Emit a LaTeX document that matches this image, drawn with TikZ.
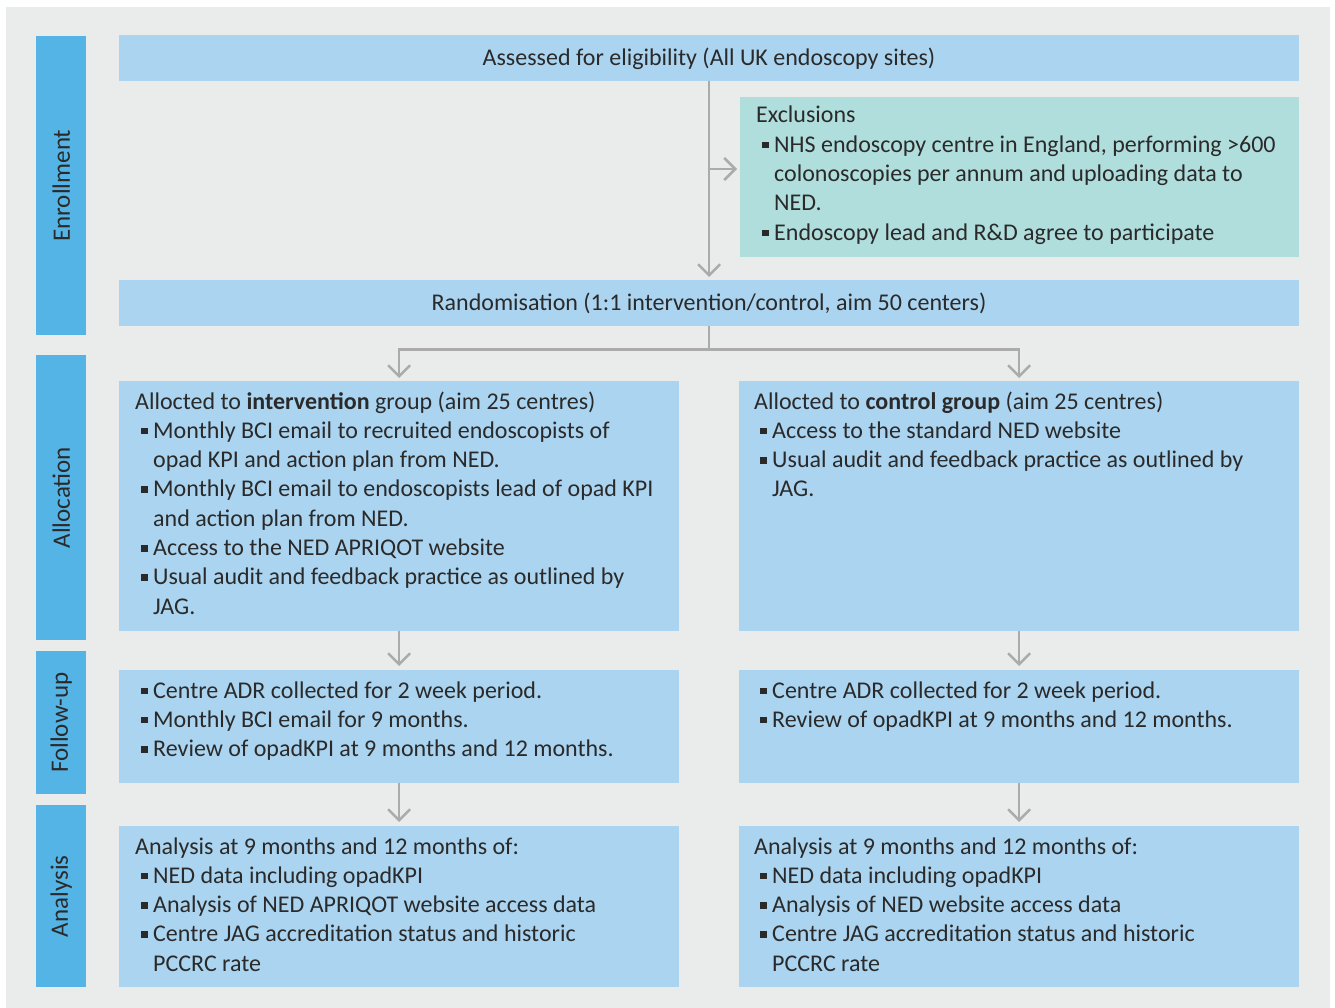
\documentclass[tikz,border=0pt]{standalone}
\usepackage{fontspec}
\setmainfont{Carlito}
\usetikzlibrary{arrows.meta}
\definecolor{bgc}{HTML}{EAECEC}
\definecolor{barc}{HTML}{55B4E6}
\definecolor{lboxc}{HTML}{ABD4F0}
\definecolor{tboxc}{HTML}{B0DEDD}
\definecolor{arrc}{HTML}{ABABAB}
\definecolor{inkc}{HTML}{2A2A2A}
\newcommand\bul{\makebox[18pt][l]{\hspace*{6pt}\rule[4pt]{6.5pt}{6.5pt}}}
\newcommand\ind{\hspace*{18pt}}
\newcommand\tblock[1]{\parbox[t]{620pt}{\raggedright #1}}
\tikzset{
  boxc/.style={rectangle, fill=lboxc, inner sep=0pt, anchor=north west},
  exclbox/.style={rectangle, fill=tboxc, inner sep=0pt, anchor=north west},
  phasebar/.style={rectangle, fill=barc, inner sep=0pt, anchor=north west, minimum width=50pt},
  phaselbl/.style={rotate=90, text=inkc, font=\fontsize{25}{28}\selectfont, inner sep=0pt},
  txt/.style={text=inkc, font=\fontsize{24}{29.3}\selectfont, inner sep=0pt, anchor=base west},
  ctxt/.style={text=inkc, font=\fontsize{24}{29.3}\selectfont, inner sep=0pt, anchor=base},
  conn/.style={draw=arrc, line width=2.5pt, -{Straight Barb[length=11pt,width=22pt]}, shorten >=3pt},
  line/.style={draw=arrc, line width=2.5pt}
}
\begin{document}
\begin{tikzpicture}[x=1pt,y=-1pt]
\useasboundingbox (0,0) rectangle (1335,1008);
\fill[white] (0,0) rectangle (1335,1008);
\fill[bgc] (6,7) rectangle (1330,1008);

% phase bars
\node[phasebar, minimum height=299pt] (enr) at (36,36) {};
\node[phasebar, minimum height=285pt] (alc) at (36,355) {};
\node[phasebar, minimum height=143pt] (fol) at (36,651) {};
\node[phasebar, minimum height=182pt] (ana) at (36,805) {};
\node[phaselbl] (enrl) at (enr.center) {Enrollment};
\node[phaselbl] (alcl) at (alc.center) {Allocation};
\node[phaselbl] (foll) at (fol.center) {Follow-up};
\node[phaselbl] (anal) at (ana.center) {Analysis};

% boxes
\node[boxc, minimum width=1180pt, minimum height=46pt] (elig) at (119,35) {};
\node[exclbox, minimum width=559pt, minimum height=160pt] (excl) at (740,97) {};
\node[boxc, minimum width=1180pt, minimum height=46pt] (rand) at (119,280) {};
\node[boxc, minimum width=560pt, minimum height=250pt] (allocL) at (119,381) {};
\node[boxc, minimum width=560pt, minimum height=250pt] (allocR) at (739,381) {};
\node[boxc, minimum width=560pt, minimum height=113pt] (folL) at (119,670) {};
\node[boxc, minimum width=560pt, minimum height=113pt] (folR) at (739,670) {};
\node[boxc, minimum width=560pt, minimum height=161pt] (anaL) at (119,826) {};
\node[boxc, minimum width=560pt, minimum height=161pt] (anaR) at (739,826) {};

% texts
\node[ctxt] (eligt) at (709,66) {Assessed for eligibility (All UK endoscopy sites)};
\node[txt] (exclt) at (756,123) {\tblock{Exclusions\\
\bul NHS endoscopy centre in England, performing >600\\
\ind colonoscopies per annum and uploading data to\\
\ind NED.\\
\bul Endoscopy lead and R\&D agree to participate}};
\node[ctxt] (randt) at (709,310) {Randomisation (1:1 intervention/control, aim 50 centers)};
\node[txt] (allocLt) at (135,409) {\tblock{Allocted to \textbf{intervention} group (aim 25 centres)\\
\bul Monthly BCI email to recruited endoscopists of\\
\ind opad KPI and action plan from NED.\\
\bul Monthly BCI email to endoscopists lead of opad KPI\\
\ind and action plan from NED.\\
\bul Access to the NED APRIQOT website\\
\bul Usual audit and feedback practice as outlined by\\
\ind JAG.}};
\node[txt] (allocRt) at (754,409) {\tblock{Allocted to \textbf{control group} (aim 25 centres)\\
\bul Access to the standard NED website\\
\bul Usual audit and feedback practice as outlined by\\
\ind JAG.}};
\node[txt] (folLt) at (135,698) {\tblock{\bul Centre ADR collected for 2 week period.\\
\bul Monthly BCI email for 9 months.\\
\bul Review of opadKPI at 9 months and 12 months.}};
\node[txt] (folRt) at (754,698) {\tblock{\bul Centre ADR collected for 2 week period.\\
\bul Review of opadKPI at 9 months and 12 months.}};
\node[txt] (anaLt) at (135,854) {\tblock{Analysis at 9 months and 12 months of:\\
\bul NED data including opadKPI\\
\bul Analysis of NED APRIQOT website access data\\
\bul Centre JAG accreditation status and historic\\
\ind PCCRC rate}};
\node[txt] (anaRt) at (754,854) {\tblock{Analysis at 9 months and 12 months of:\\
\bul NED data including opadKPI\\
\bul Analysis of NED website access data\\
\bul Centre JAG accreditation status and historic\\
\ind PCCRC rate}};

% connectors
\coordinate (br) at (709,169);
\draw[conn] (elig.south) -- (rand.north);
\draw[conn] (br) -- (br -| excl.west);
\draw[conn] (rand.south) -- ++(0,23) -| (allocL.north);
\draw[conn] (rand.south) ++(0,23) -| (allocR.north);
\draw[conn, shorten >=4pt] (allocL.south) -- (folL.north);
\draw[conn, shorten >=4pt] (allocR.south) -- (folR.north);
\draw[conn, shorten >=4pt] (folL.south) -- (anaL.north);
\draw[conn, shorten >=4pt] (folR.south) -- (anaR.north);
\end{tikzpicture}
\end{document}
